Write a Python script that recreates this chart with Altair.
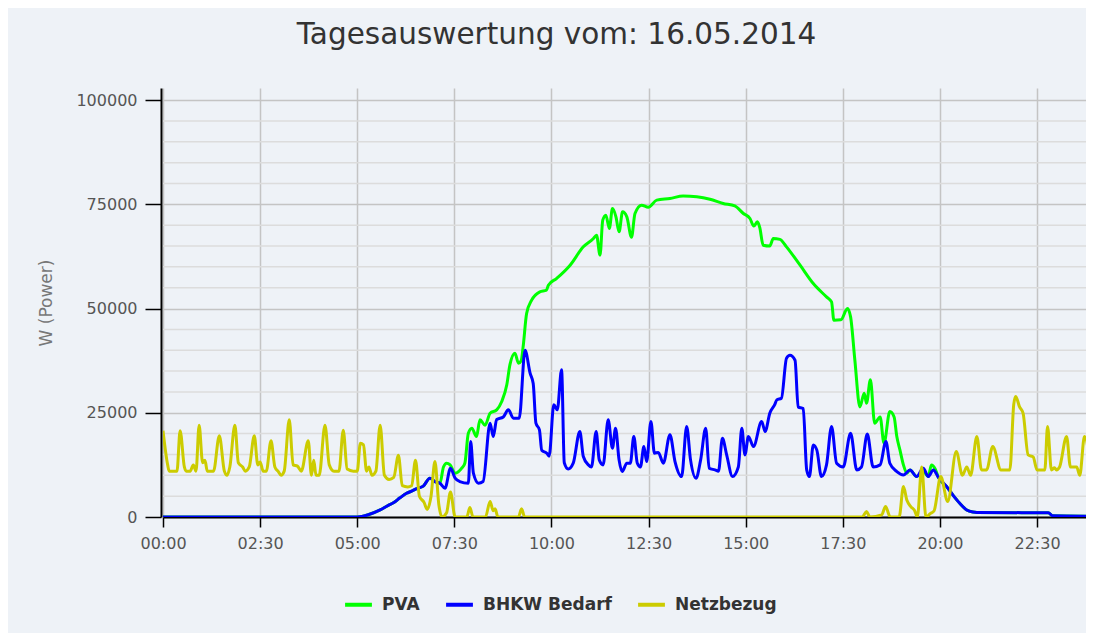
import altair as alt
import pandas as pd

SERIES = ["PVA", "BHKW Bedarf", "Netzbezug"]
COLORS = ["#00ff00", "#0000ff", "#cccc00"]

X_TICKS = [0, 2.5, 5, 7.5, 10, 12.5, 15, 17.5, 20, 22.5]
Y_TICKS = [0, 25000, 50000, 75000, 100000]
MINOR_GRID = [5000, 10000, 15000, 20000, 30000, 35000, 40000, 45000,
              55000, 60000, 65000, 70000, 80000, 85000, 90000, 95000]

# PVA (hours of day, watts)
pva_hours = [0, 5.0, 5.3, 5.59, 5.8, 5.93, 6.1, 6.27, 6.4, 6.53, 6.7, 6.87, 7.0, 7.13,
             7.22, 7.3, 7.39, 7.52, 7.69, 7.77, 7.86, 7.95, 8.07, 8.16, 8.29, 8.42,
             8.59, 8.72, 8.85, 8.93, 9.06, 9.15, 9.22, 9.27, 9.36, 9.49, 9.7, 9.87,
             9.92, 10.13, 10.48, 10.82, 11.08, 11.16, 11.25, 11.32, 11.4, 11.49, 11.57,
             11.66, 11.74, 11.83, 11.94, 12.06, 12.15, 12.32, 12.49, 12.71, 13.05,
             13.39, 13.74, 14.08, 14.42, 14.72, 14.94, 15.11, 15.21, 15.3, 15.36,
             15.45, 15.62, 15.71, 15.88, 16.05, 16.4, 16.74, 17.08, 17.21, 17.27,
             17.45, 17.62, 17.7, 17.81, 17.94, 18.05, 18.11, 18.21, 18.32, 18.46,
             18.56, 18.71, 18.82, 18.89, 18.97, 19.06, 19.15, 19.23, 19.4, 19.57,
             19.7, 19.78, 19.88, 19.96, 20.17, 20.34, 20.51, 20.69, 20.85, 20.95,
             22.79, 22.9, 23.87]
pva_watts = [0, 0, 600, 1700, 2800, 3400, 4600, 5700, 6200, 6800, 7400, 9300, 8500, 8100,
             12000, 12900, 12500, 10500, 11700, 12900, 20100, 21300, 19300, 23300, 22000, 24900,
             25700, 27700, 31700, 36500, 39300, 36900, 37500, 40800, 48800, 52000, 54000, 54400,
             55600, 57200, 60400, 64800, 66800, 67600, 62800, 71200, 72400, 69200, 74000,
             72000, 68400, 73200, 72000, 67100, 72800, 74800, 74300, 76000, 76400,
             77000, 76800, 76200, 75200, 74600, 72800, 71600, 69800, 70800, 69500,
             65200, 65000, 66800, 66600, 64800, 60400, 56000, 52800, 51600, 47200,
             47300, 50000, 48000, 37600, 26400, 29700, 27300, 32900, 22500, 24000,
             17700, 25300, 24000, 19300, 16100, 12500, 10500, 11300, 9700, 11000,
             9700, 12500, 11500, 9500, 7300, 5200, 3300, 1700, 1200, 1100,
             1000, 300, 200]

# BHKW Bedarf
bhkw_hours = [0, 5.0, 5.3, 5.59, 5.8, 5.93, 6.1, 6.27, 6.4, 6.53, 6.7, 6.87, 7.0, 7.13,
              7.26, 7.4, 7.52, 7.64, 7.86, 7.92, 7.99, 8.12, 8.24, 8.42, 8.5, 8.59, 8.76,
              8.89, 9.02, 9.17, 9.32, 9.45, 9.53, 9.6, 9.69, 9.75, 9.88, 9.94, 10.06,
              10.15, 10.26, 10.33, 10.43, 10.56, 10.73, 10.82, 10.95, 11.03, 11.15,
              11.23, 11.33, 11.46, 11.57, 11.65, 11.74, 11.82, 11.94, 12.03, 12.12,
              12.21, 12.29, 12.38, 12.45, 12.56, 12.65, 12.75, 12.88, 13.05, 13.18,
              13.35, 13.48, 13.58, 13.72, 13.84, 13.97, 14.06, 14.21, 14.3, 14.4,
              14.51, 14.66, 14.81, 14.9, 14.98, 15.07, 15.2, 15.41, 15.5, 15.62,
              15.75, 15.8, 15.92, 16.05, 16.14, 16.27, 16.35, 16.48, 16.57, 16.64,
              16.74, 16.83, 16.95, 17.08, 17.21, 17.34, 17.51, 17.7, 17.86, 17.98,
              18.13, 18.28, 18.46, 18.61, 18.71, 18.89, 19.06, 19.23, 19.4, 19.57,
              19.7, 19.83, 19.96, 20.17, 20.34, 20.51, 20.69, 20.85, 20.95, 22.79,
              22.9, 23.87]
bhkw_watts = [0, 0, 600, 1700, 2800, 3400, 4600, 5700, 6200, 6800, 7400, 9300, 8500, 8100,
              6900, 11700, 9300, 8500, 8100, 18100, 10500, 8100, 8500, 22500, 19300, 23400, 24000,
              25700, 23700, 23700, 40000, 34500, 32000, 22500, 20900, 16000, 15300, 14600, 26900,
              25700, 35300, 13000, 11500, 12900, 20500, 14500, 12500, 12000, 20500,
              13700, 12500, 23300, 16500, 21300, 13700, 10900, 12900, 12900, 19300,
              12900, 12000, 16900, 13300, 22900, 15300, 15500, 12900, 19700, 13300,
              9700, 21700, 13700, 9300, 13700, 21300, 11700, 11300, 11000, 18900,
              14900, 9700, 12000, 21300, 14900, 19300, 16900, 22900, 20500, 24900,
              27000, 28100, 28500, 38100, 38800, 37600, 26400, 26000, 11300, 9700,
              17300, 16100, 9700, 12500, 21700, 12900, 12000, 20100, 11300, 12000,
              19900, 12000, 12500, 18100, 12900, 10900, 10100, 11300, 9700, 11700,
              9700, 11300, 9500, 7300, 5200, 3300, 1700, 1200, 1100, 1000,
              300, 200]

# Netzbezug
netz_hours = [0, 0.12, 0.16, 0.36, 0.44, 0.55, 0.6, 0.7, 0.78, 0.85, 0.93, 1.02, 1.08,
              1.14, 1.3, 1.45, 1.58, 1.65, 1.72, 1.85, 1.94, 2.05, 2.12, 2.22, 2.35,
              2.44, 2.5, 2.58, 2.66, 2.78, 2.88, 2.96, 3.04, 3.12, 3.25, 3.35, 3.46,
              3.56, 3.74, 3.82, 3.88, 3.94, 4.02, 4.17, 4.28, 4.4, 4.53, 4.64, 4.74,
              4.9, 5.0, 5.08, 5.16, 5.24, 5.3, 5.38, 5.48, 5.59, 5.7, 5.82, 5.94, 6.06,
              6.16, 6.3, 6.4, 6.5, 6.6, 6.72, 6.8, 6.9, 7.0, 7.1, 7.18, 7.3, 7.4, 7.52,
              7.82, 7.9, 7.98, 8.3, 8.42, 8.5, 8.55, 8.62, 9.15, 9.23, 9.31, 18.0,
              18.11, 18.2, 18.5, 18.6, 18.72, 18.95, 19.06, 19.15, 19.25, 19.35, 19.42,
              19.53, 19.64, 19.75, 19.85, 20.02, 20.2, 20.42, 20.58, 20.69, 20.79,
              20.95, 21.07, 21.2, 21.36, 21.57, 21.8, 21.9, 21.95, 22.05, 22.14,
              22.27, 22.4, 22.5, 22.7, 22.77, 22.87, 22.95, 23.0, 23.08, 23.26, 23.36,
              23.52, 23.6, 23.72, 23.87]
netz_watts = [20700, 12500, 11000, 11000, 20700, 12000, 11000, 11000, 12500, 11000, 22000, 13000, 13600,
              11000, 11000, 19500, 11000, 10000, 12000, 22000, 13000, 12000, 11000, 12000, 19500,
              12500, 13200, 11000, 11000, 18300, 12000, 11000, 10000, 11000, 23300, 12500, 12200,
              11000, 18300, 10000, 13600, 10000, 10000, 22000, 12500, 11000, 11000, 20800, 11500,
              11000, 11000, 17700, 17300, 11000, 12000, 10000, 11000, 22000, 10000, 9000, 9500, 14800,
              7500, 7200, 7500, 13600, 5000, 3500, 1800, 5000, 13300, 3000, 0, 1000, 6000, 0,
              0, 2300, 0, 0, 3700, 1500, 2000, 0, 0, 2000, 0, 0,
              1300, 0, 500, 2500, 0, 0, 7300, 4000, 2500, 1500, 0,
              12000, 0, 800, 1500, 9700, 3700, 15700, 10000, 12000, 10000,
              19300, 11300, 11300, 16900, 11300, 11300, 27000, 28900, 26400, 24900,
              14900, 14400, 11300, 11300, 21700, 11300, 11800, 11300, 12000, 19300, 12000,
              12000, 10000, 19300, 12400]

FONT = "DejaVu Sans"


def frame(name, hours, watts):
    return pd.DataFrame({"hour": hours, "watt": watts, "series": name})


x_axis = alt.Axis(
    values=X_TICKS,
    labelExpr="(floor(datum.value) < 10 ? '0' : '') + floor(datum.value) + ':' + (datum.value % 1 == 0 ? '00' : '30')",
    labelFont=FONT, labelFontSize=16, labelColor="#555555", labelPadding=8,
    labelFlush=False, labelOverlap=False,
    tickSize=10, tickColor="black", tickWidth=1.5,
    domainColor="black", domainWidth=2,
    gridColor="#c4c4c4", gridWidth=1.5,
    title=None,
)
y_axis = alt.Axis(
    values=Y_TICKS, format="d",
    labelFont=FONT, labelFontSize=16, labelColor="#555555", labelPadding=8,
    tickSize=16, tickColor="black", tickWidth=1.5,
    domainColor="black", domainWidth=2, offset=2,
    gridColor="#c4c4c4", gridWidth=1.5,
    title="W (Power)", titleFont=FONT, titleFontSize=17, titleFontWeight="normal",
    titleColor="#777777", titlePadding=20,
)

x_enc = alt.X("hour:Q", scale=alt.Scale(domain=[0, 23.76], nice=False, zero=False), axis=x_axis)
y_enc = alt.Y("watt:Q", scale=alt.Scale(domain=[0, 102900], nice=False), axis=y_axis)
color_enc = alt.Color(
    "series:N",
    scale=alt.Scale(domain=SERIES, range=COLORS),
    legend=alt.Legend(
        title=None, orient="none", legendX=180, legendY=501, direction="horizontal",
        symbolType="stroke", symbolSize=720, symbolStrokeWidth=4,
        labelFont=FONT, labelFontWeight="bold", labelFontSize=17, labelColor="#333333",
        columnPadding=18, labelOffset=8,
    ),
)

grid = alt.Chart(pd.DataFrame({"watt": MINOR_GRID})).mark_rule(
    color="#dcdcdc", strokeWidth=1.5
).encode(y=y_enc)


def line(df):
    return alt.Chart(df).mark_line(strokeWidth=3, interpolate="monotone", clip=True).encode(
        x=x_enc, y=y_enc, color=color_enc
    )


chart = alt.layer(
    grid,
    line(frame("PVA", pva_hours, pva_watts)),
    line(frame("BHKW Bedarf", bhkw_hours, bhkw_watts)),
    line(frame("Netzbezug", netz_hours, netz_watts)),
).properties(
    width=923,
    height=429,
    padding={"left": 155, "top": 80, "right": 0, "bottom": 116},
    autosize=alt.AutoSizeParams(type="none"),
    background="#eef2f7",
    title=alt.TitleParams(
        text="Tagesauswertung vom: 16.05.2014", font=FONT, fontSize=29.5,
        fontWeight="normal", color="#333333", anchor="middle", dx=-68, offset=38,
    ),
).configure_view(strokeWidth=0)

chart.save("out.html", embed_options={"renderer": "svg", "actions": False})
